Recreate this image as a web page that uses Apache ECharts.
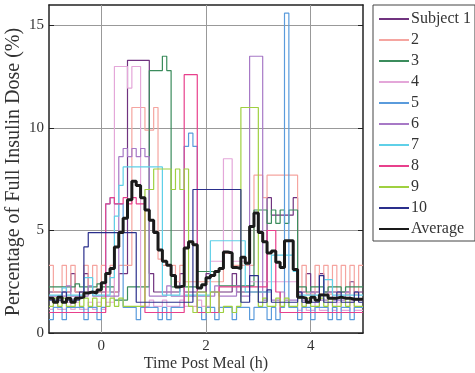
<!DOCTYPE html>
<html><head><meta charset="utf-8">
<script src="https://cdn.jsdelivr.net/npm/echarts@6/dist/echarts.min.js"></script>
<style>html,body{margin:0;padding:0;background:#fff}#c{width:475px;height:373px}</style>
</head><body><div id="c"></div>
<script>
// time grid (minutes after meal), 5-minute steps from -60 to 300
const minutes = [-60,-55,-50,-45,-40,-35,-30,-25,-20,-15,-10,-5,
  0,5,10,15,20,25,30,35,40,45,50,55,
  60,65,70,75,80,85,90,95,100,105,110,115,
  120,125,130,135,140,145,150,155,160,165,170,175,
  180,185,190,195,200,205,210,215,220,225,230,235,
  240,245,250,255,260,265,270,275,280,285,290,295,300];

const seriesNames = ['Subject 1','2','3','4','5','6','7','8','9','10','Average'];
const seriesColors = ['#70337f','#f5a5a0','#3b8c5c','#e4a7d9','#5a9bdc','#a779c6','#5fd0e8','#e8408c','#9fd040','#2a2f8c','#1a1a1a'];
const xTitle = 'Time Post Meal (h)';
const yTitle = 'Percentage of Full Insulin Dose (%)';

const s1 = [2.0,2.0,2.0,2.0,2.0,2.9,2.0,2.0,2.9,2.0,2.0,2.0,
  2.0,2.9,2.0,2.0,2.9,2.9,13.3,13.3,13.3,13.3,13.3,2.9,
  2.0,2.0,2.0,2.0,2.0,2.0,2.9,2.0,2.0,2.0,2.0,2.0,
  2.9,2.0,2.0,2.0,2.0,2.0,2.9,2.0,2.0,2.0,2.0,2.0,
  2.0,2.0,6.6,5.75,5.75,5.75,5.75,5.75,6.6,2.0,2.0,2.9,
  2.0,2.0,2.9,2.0,2.0,2.0,2.0,2.0,2.0,2.5,2.0,2.0];
const s2 = [3.3,2.0,2.0,3.3,2.0,3.3,2.0,2.0,3.3,2.0,3.3,2.0,
  3.3,2.0,3.3,2.0,3.3,3.3,3.3,11.0,11.0,11.0,9.9,9.9,
  11.0,3.6,3.3,3.3,3.3,2.5,3.3,2.5,2.5,2.5,2.5,2.5,
  2.5,2.5,2.5,2.5,3.9,3.9,3.3,3.3,3.3,3.3,3.3,7.7,
  7.7,6.6,7.7,7.7,7.7,7.7,7.7,7.7,7.7,1.9,3.3,1.9,
  1.9,3.3,1.9,3.3,1.9,3.3,1.9,3.3,1.9,3.3,1.9,3.3];
const s3 = [2.25,2.25,2.25,2.25,2.25,2.25,2.4,2.25,2.25,2.25,2.25,2.4,
  2.25,2.25,2.25,1.6,1.6,1.6,2.25,2.25,2.25,2.25,2.25,12.8,
  12.8,12.8,13.5,12.8,2.25,2.25,2.25,2.25,2.25,2.25,3.0,3.0,
  3.0,3.0,3.0,2.3,2.3,2.3,2.3,2.3,2.3,2.3,2.3,6.0,
  6.0,6.0,5.35,6.0,5.35,6.0,5.35,6.0,6.0,2.25,2.25,2.0,
  2.25,2.25,2.25,2.0,2.25,2.25,2.25,2.0,2.25,2.25,2.25,2.25];
const s4 = [1.15,1.5,1.15,1.15,1.5,1.15,1.5,1.15,1.15,1.5,1.15,1.5,
  1.15,1.5,1.5,13.0,13.0,13.0,11.95,13.0,13.0,1.3,1.3,1.6,
  1.3,1.3,1.6,1.3,1.3,1.3,1.6,1.3,1.3,1.3,1.6,1.3,
  1.3,3.5,3.5,3.5,8.5,8.5,3.5,3.5,3.5,3.5,2.5,2.5,
  2.5,2.5,2.5,2.5,2.5,2.5,2.5,2.5,2.5,1.1,1.5,1.1,
  1.1,1.5,1.1,1.1,1.5,1.1,1.5,1.1,1.1,1.5,1.1,1.1];
const s5 = [0.65,1.25,1.25,0.65,1.25,1.25,1.25,1.25,0.65,1.25,1.25,0.65,
  1.25,6.3,6.6,6.3,6.3,1.25,1.25,1.25,0.65,1.25,1.25,1.25,
  1.25,0.65,1.25,0.65,1.25,1.25,1.25,9.1,9.75,9.1,1.25,0.65,
  1.25,1.25,0.65,1.25,1.25,1.25,0.65,1.25,1.25,1.25,0.65,1.25,
  1.25,1.25,0.65,1.25,0.65,1.25,15.6,1.25,1.25,0.65,1.25,1.25,
  0.65,1.25,1.25,1.25,0.65,1.25,0.65,1.25,1.25,0.65,1.25,1.25];
const s6 = [1.8,1.8,1.8,1.8,2.3,1.8,1.8,1.8,1.8,2.3,1.8,1.8,
  1.8,1.8,1.8,1.8,8.6,9.0,8.6,9.0,8.6,9.0,8.6,1.8,
  1.8,1.8,1.8,2.3,1.8,1.8,1.8,1.8,1.8,1.8,1.8,1.8,
  1.8,1.8,2.3,1.8,1.8,1.8,1.8,2.3,1.8,1.8,13.5,13.5,
  13.5,1.6,2.0,1.6,1.6,2.0,1.6,1.6,1.6,2.0,1.6,1.6,
  2.0,1.6,1.6,1.6,2.0,1.6,1.6,1.6,2.0,1.6,1.6,1.6];
const s7 = [1.85,1.85,1.85,2.2,1.85,1.85,1.85,1.85,2.7,2.7,1.85,1.85,
  1.85,1.85,2.7,5.7,7.2,8.1,8.1,8.1,8.1,8.1,8.1,8.1,
  8.1,8.1,1.85,1.85,1.85,1.85,2.3,1.85,1.85,1.85,1.85,1.85,
  1.85,4.5,4.5,4.5,4.5,4.5,4.5,4.5,4.5,2.0,2.0,2.0,
  2.0,2.0,2.0,3.8,3.8,3.8,3.8,3.8,3.0,1.85,1.85,1.85,
  1.85,1.85,1.85,2.6,2.6,1.85,1.85,1.85,1.85,1.85,1.85,1.85];
const s8 = [1.0,1.0,1.0,1.0,1.0,1.0,1.0,1.0,1.0,1.0,1.0,1.0,
  1.0,6.3,6.6,6.3,6.3,6.6,6.3,6.6,6.3,6.3,1.0,1.0,
  1.0,1.0,1.0,1.0,1.0,1.0,1.0,12.6,12.6,12.6,1.0,1.0,
  1.0,1.0,1.0,2.25,2.25,2.25,2.25,2.25,2.25,2.25,2.25,2.25,
  2.25,2.25,5.0,5.0,2.0,1.0,1.0,1.0,1.0,1.0,1.0,1.0,
  1.0,1.0,1.0,1.0,1.0,1.0,1.0,1.0,1.0,1.0,1.0,1.0];
const s9 = [1.3,1.7,1.3,1.7,1.3,1.3,1.7,1.3,1.7,1.3,1.7,1.3,
  1.7,1.3,1.7,1.3,1.7,1.3,1.3,1.3,1.3,1.3,7.0,7.0,
  8.0,8.0,8.0,8.0,7.0,8.0,7.0,8.0,1.3,1.0,2.0,2.0,
  1.0,2.0,2.0,1.0,1.3,1.3,1.0,1.3,11.0,11.0,11.0,11.0,
  1.3,1.7,1.3,1.3,1.7,1.3,1.7,1.3,1.3,1.7,1.3,1.7,
  1.3,1.3,1.7,1.3,1.7,1.3,1.3,1.7,1.3,1.7,1.3,1.3];
const s10 = [1.6,1.6,1.6,2.0,1.6,1.6,1.6,2.0,4.2,4.9,4.9,4.9,
  4.9,4.9,4.9,4.9,4.9,4.9,4.9,4.9,1.5,1.5,1.5,1.5,
  1.5,1.5,1.5,1.5,1.5,1.5,1.5,1.5,1.5,7.0,7.0,7.0,
  7.0,7.0,7.0,7.0,7.0,7.0,7.0,7.0,1.5,1.5,2.8,2.8,
  1.5,1.5,2.1,1.5,1.5,1.5,1.5,1.5,1.5,2.0,1.5,1.5,
  1.5,1.5,2.8,1.5,1.5,1.5,2.0,1.5,1.5,1.5,2.0,1.5];
const avg = [1.7,1.5,1.75,1.5,1.7,1.5,1.7,1.75,1.95,2.0,1.95,2.1,
  2.45,2.9,3.15,4.2,4.9,5.6,6.5,7.4,7.2,6.6,6.0,5.5,
  4.9,4.05,3.5,3.3,2.8,2.25,2.3,4.15,4.45,4.3,2.2,2.35,
  2.7,2.8,3.0,3.15,3.95,3.9,3.2,3.15,3.7,3.4,5.2,5.85,
  4.9,4.45,3.9,4.0,3.45,3.2,4.5,4.5,3.1,1.75,1.7,1.5,
  1.75,1.6,1.85,1.85,1.7,1.7,1.75,1.7,1.7,1.65,1.65,1.65];

const xTicks = [0, 2, 4];
const yTicks = [0, 5, 10, 15];
const allValues = [s1,s2,s3,s4,s5,s6,s7,s8,s9,s10,avg];

const FONT = 'Liberation Serif';
function toSteps(vals) {
  const d = vals.map((v, i) => [minutes[i] / 60, v]);
  d.push([minutes[minutes.length - 1] / 60, vals[vals.length - 1]]);
  return d;
}

const series = allValues.map((vals, k) => ({
  name: seriesNames[k],
  type: 'line',
  step: 'end',
  symbol: 'none',
  data: toSteps(vals),
  color: seriesColors[k],
  lineStyle: { width: k === 10 ? 3 : 1.2, color: seriesColors[k] },
  z: k === 10 ? 4 : 3,
  silent: true,
  animation: false
}));
series.unshift({
  name: '_grid', type: 'line', symbol: 'none', silent: true, animation: false,
  data: toSteps(avg), lineStyle: { opacity: 0 }, z: 1,
  markLine: {
    z: 1, silent: true, symbol: ['none', 'none'], label: { show: false },
    lineStyle: { color: '#999', width: 1, type: 'solid' },
    data: xTicks.map(v => ({ xAxis: v }))
  }
});

const axisLine = { show: true, onZero: false, lineStyle: { color: '#222', width: 1.5 } };
const chart = echarts.init(document.getElementById('c'), null, { renderer: 'canvas' });
chart.setOption({
  animation: false,
  backgroundColor: '#fff',
  grid: { left: 49, right: 112, top: 5, bottom: 40, containLabel: false, outerBoundsMode: 'none' },
  graphic: [{
    type: 'text', x: 14, y: 172, rotation: Math.PI / 2, silent: true,
    style: { text: yTitle, fontFamily: FONT, fontSize: 20, fill: '#333', align: 'center', verticalAlign: 'middle' }
  }, {
    type: 'text', x: 206, y: 364, silent: true,
    style: { text: xTitle, fontFamily: FONT, fontSize: 16, fill: '#333', align: 'center', verticalAlign: 'middle' }
  }],
  legend: {
    data: seriesNames, orient: 'vertical', left: 373, top: 5,
    itemWidth: 30, itemHeight: 14, itemGap: 5,
    padding: [6, 4, 4, 5],
    borderColor: '#444', borderWidth: 1,
    itemStyle: { opacity: 0, borderWidth: 0 },
    textStyle: { fontFamily: FONT, fontSize: 16, color: '#333', lineHeight: 16, padding: [0, 0, 0, -3] }
  },
  xAxis: [
    { type: 'value', min: -1, max: 5, position: 'bottom', axisLine,
      axisTick: { show: true, inside: true, length: 5, customValues: xTicks, lineStyle: { color: '#222' } },
      axisLabel: { customValues: xTicks, fontFamily: FONT, fontSize: 15, color: '#333', margin: 6 },
      splitLine: { show: false } },
    { type: 'value', min: -1, max: 5, position: 'top', axisLine,
      axisTick: { show: true, inside: true, length: 5, customValues: xTicks, lineStyle: { color: '#222' } },
      axisLabel: { show: false }, splitLine: { show: false } }
  ],
  yAxis: [
    { type: 'value', min: 0, max: 16, interval: 5, position: 'left', axisLine,
      axisTick: { show: true, inside: true, length: 5, customValues: yTicks, lineStyle: { color: '#222' } },
      axisLabel: { customValues: yTicks, fontFamily: FONT, fontSize: 15, color: '#333', margin: 5 },
      splitLine: { show: true, lineStyle: { color: '#999', width: 1 } } },
    { type: 'value', min: 0, max: 16, interval: 5, position: 'right', axisLine,
      axisTick: { show: true, inside: true, length: 5, customValues: yTicks, lineStyle: { color: '#222' } },
      axisLabel: { show: false }, splitLine: { show: false } }
  ],
  series
});
</script>
</body></html>
